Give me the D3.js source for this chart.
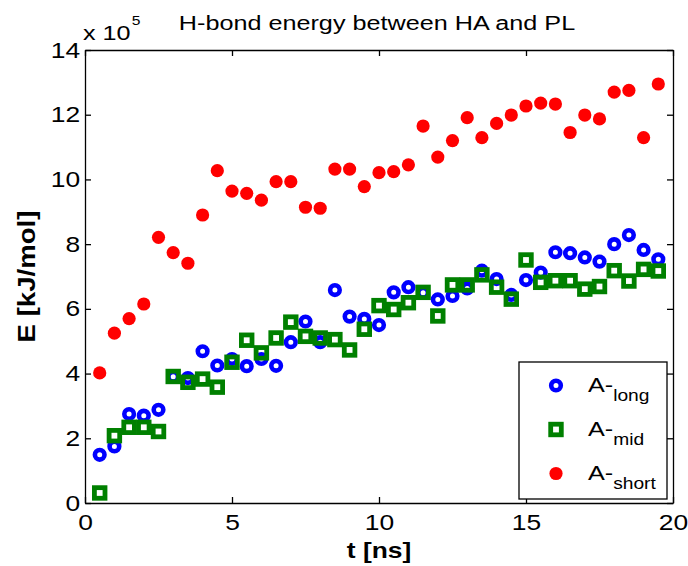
<!DOCTYPE html>
<html>
<head>
<meta charset="utf-8">
<script src="https://cdn.jsdelivr.net/npm/d3@7"></script>
<style>
  body { margin: 0; background: #fff; }
  text { font-family: "Liberation Sans", Arial, sans-serif; fill: #000; }
</style>
</head>
<body>
<svg></svg>
<script>
'use strict'

const width = 688
const height = 566

// time points [ns]
const times = [0.5, 1, 1.5, 2, 2.5, 3, 3.5, 4, 4.5, 5, 5.5, 6, 6.5, 7, 7.5, 8, 8.5, 9, 9.5, 10,
    10.5, 11, 11.5, 12, 12.5, 13, 13.5, 14, 14.5, 15, 15.5, 16, 16.5, 17, 17.5, 18, 18.5, 19, 19.5]

// energies in units of 1e5 kJ/mol
const longVals = [1.49, 1.75, 2.75, 2.70, 2.88, 3.90, 3.86, 4.69, 4.25, 4.45, 4.23, 4.45, 4.24, 4.97, 5.61, 4.97, 6.58, 5.76, 5.69, 5.50,
    6.51, 6.67, 6.50, 6.29, 6.40, 6.63, 7.18, 6.92, 6.43, 6.89, 7.12, 7.75, 7.72, 7.59, 7.46, 8.00, 8.28, 7.82, 7.53]
const midVals = [0.31, 2.08, 2.34, 2.34, 2.21, 3.91, 3.73, 3.83, 3.58, 4.35, 5.03, 4.64, 5.10, 5.59, 5.15, 5.10, 5.05, 4.73, 5.37, 6.10,
    5.98, 6.19, 6.51, 5.78, 6.74, 6.74, 7.05, 6.67, 6.30, 7.51, 6.82, 6.87, 6.87, 6.61, 6.69, 7.18, 6.86, 7.22, 7.17]
const shortVals = [4.02, 5.25, 5.70, 6.15, 8.21, 7.74, 7.41, 8.90, 10.27, 9.64, 9.57, 9.36, 9.93, 9.93, 9.14, 9.11, 10.32, 10.32, 9.78, 10.21,
    10.24, 10.45, 11.65, 10.69, 11.20, 11.91, 11.29, 11.73, 11.99, 12.27, 12.36, 12.33, 11.45, 11.99, 11.87, 12.70, 12.75, 11.29, 12.95]

const xTicks = [0, 5, 10, 15, 20]
const yTicks = [0, 2, 4, 6, 8, 10, 12, 14]

const margin = { left: 85, right: 15, top: 50, bottom: 63 }
const stretch = 1.2 // the original text is drawn wide

const svg = d3.select('svg').attr('width', width).attr('height', height)

const x = d3.scaleLinear().domain([0, 20]).range([margin.left, width - margin.right])
const y = d3.scaleLinear().domain([0, 14]).range([height - margin.bottom, margin.top])

// axes, MATLAB style box with inward ticks
const axisStyle = g => {
    g.select('.domain').attr('stroke', '#000').attr('stroke-width', 1.3)
    g.selectAll('.tick line').attr('stroke', '#000').attr('stroke-width', 1.3)
}

svg.append('g')
    .attr('transform', `translate(0,${y(0)})`)
    .call(d3.axisBottom(x).tickValues(xTicks).tickSizeInner(-6).tickSizeOuter(0).tickPadding(11))
    .call(axisStyle)
    .call(g => g.selectAll('.tick text').attr('font-size', 22).attr('dy', '0.71em')
        .attr('transform', `scale(${stretch},1)`))

svg.append('g')
    .attr('transform', `translate(0,${y(14)})`)
    .call(d3.axisTop(x).tickValues(xTicks).tickSizeInner(-6).tickSizeOuter(0).tickFormat(''))
    .call(axisStyle)

svg.append('g')
    .attr('transform', `translate(${x(0)},0)`)
    .call(d3.axisLeft(y).tickValues(yTicks).tickSizeInner(-6).tickSizeOuter(0).tickPadding(4))
    .call(axisStyle)
    .call(g => g.selectAll('.tick text').attr('font-size', 22)
        .attr('transform', `scale(${stretch},1)`))

svg.append('g')
    .attr('transform', `translate(${x(20)},0)`)
    .call(d3.axisRight(y).tickValues(yTicks).tickSizeInner(-6).tickSizeOuter(0).tickFormat(''))
    .call(axisStyle)

// exponent label
const expo = svg.append('text')
    .attr('transform', `translate(83,40) scale(${stretch},1)`)
    .attr('font-size', 21)
expo.append('tspan').text('x 10')
expo.append('tspan').attr('font-size', 13).attr('dy', -15).attr('dx', 1).text('5')

// title and labels
svg.append('text')
    .attr('transform', `translate(377,30) scale(${stretch},1)`)
    .attr('text-anchor', 'middle')
    .attr('font-size', 21)
    .text('H-bond energy between HA and PL')

svg.append('text')
    .attr('transform', `translate(${x(10)},558) scale(${stretch},1)`)
    .attr('text-anchor', 'middle')
    .attr('font-size', 22).attr('font-weight', 'bold')
    .text('t [ns]')

svg.append('text')
    .attr('transform', `translate(35,${(y(0) + y(14)) / 2}) rotate(-90) scale(${stretch},1)`)
    .attr('text-anchor', 'middle')
    .attr('font-size', 23).attr('font-weight', 'bold')
    .text('E [kJ/mol]')

// markers
const markers = {
    long: g => g.append('circle').attr('r', 4.8).attr('fill', 'none').attr('stroke', '#0000ff').attr('stroke-width', 4.6),
    mid: g => g.append('rect').attr('x', -5.3).attr('y', -5.3).attr('width', 10.6).attr('height', 10.6)
        .attr('fill', 'none').attr('stroke', '#008000').attr('stroke-width', 4.8),
    short: g => g.append('circle').attr('r', 6.6).attr('fill', '#ff0000')
}

const series = [
    { key: 'long', label: 'long', values: longVals },
    { key: 'mid', label: 'mid', values: midVals },
    { key: 'short', label: 'short', values: shortVals }
]

series.forEach(s => {
    const pts = svg.append('g').attr('class', s.key)
        .selectAll('g')
        .data(times.map((t, i) => ({ t, v: s.values[i] })))
        .enter().append('g')
        .attr('transform', d => `translate(${x(d.t)},${y(d.v)})`)
    pts.each(function () { markers[s.key](d3.select(this)) })
})

// legend
const legend = svg.append('g')
legend.append('rect')
    .attr('x', 519).attr('y', 362).attr('width', 148).attr('height', 137)
    .attr('fill', '#fff').attr('stroke', '#000').attr('stroke-width', 1.3)

series.forEach((s, i) => {
    const cy = 385.5 + i * 44
    const g = legend.append('g').attr('transform', `translate(556,${cy})`)
    markers[s.key](g)
    const t = legend.append('text')
        .attr('transform', `translate(588,${cy + 6}) scale(${stretch},1)`)
        .attr('font-size', 21)
    t.append('tspan').text('A-')
    t.append('tspan').attr('font-size', 16).attr('dy', 9).text(s.label)
})
</script>
</body>
</html>
